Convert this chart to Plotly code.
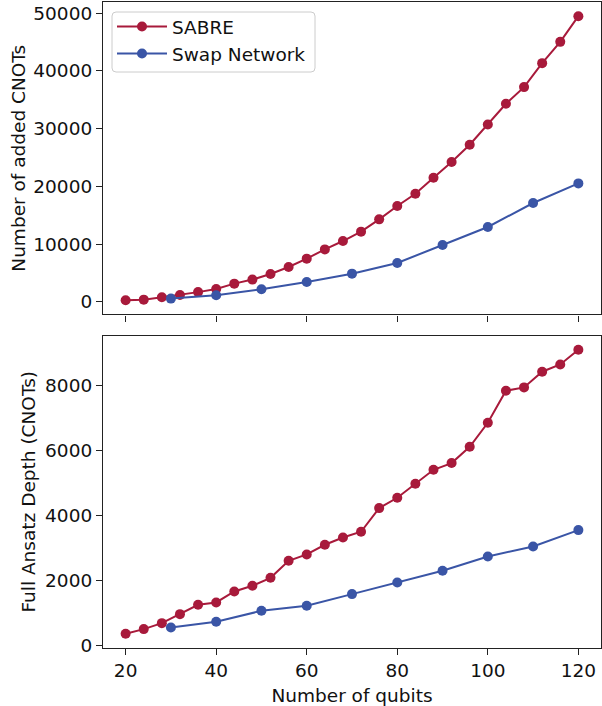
import plotly.graph_objects as go
from plotly.subplots import make_subplots

# Qubit counts for each router
sabre_qubits = list(range(20, 121, 4))
swap_qubits = list(range(30, 121, 10))

# Added CNOT counts
sabre_cnots = [290, 400, 800, 1200, 1700, 2250, 3170, 3870, 4840, 6050, 7500, 9100,
               10550, 12170, 14300, 16610, 18740, 21510, 24220, 27220, 30740, 34310,
               37200, 41350, 45040, 49480]
swap_cnots = [580, 1150, 2190, 3460, 4900, 6750, 9860, 12980, 17130, 20530]

# Full ansatz depth (in CNOTs)
sabre_depth = [369, 513, 697, 974, 1262, 1333, 1672, 1846, 2092, 2615, 2810, 3108,
               3333, 3508, 4236, 4554, 4985, 5415, 5621, 6123, 6862, 7846, 7949,
               8431, 8656, 9108]
swap_depth = [564, 738, 1077, 1231, 1590, 1949, 2308, 2749, 3056, 3559]

RED = "#A81A3B"
BLUE = "#3A55A6"
FONT = "DejaVu Sans"
FS = 18.5
W, H = 602, 706
ML, MR, MT, MB = 103, 1, 2, 58


def padded(values, frac=0.05):
    lo, hi = min(values), max(values)
    span = hi - lo
    return [lo - frac * span, hi + frac * span]


def px_to_paper(x, y):
    pw, ph = W - ML - MR, H - MT - MB
    return (x - ML) / pw, (H - MB - y) / ph


fig = make_subplots(rows=2, cols=1, shared_xaxes=True, vertical_spacing=0.0326)

fig.add_trace(go.Scatter(x=sabre_qubits, y=sabre_cnots, mode="lines+markers", name="SABRE",
                         line=dict(color=RED, width=2), marker=dict(color=RED, size=10)),
              row=1, col=1)
fig.add_trace(go.Scatter(x=swap_qubits, y=swap_cnots, mode="lines+markers", name="Swap Network",
                         line=dict(color=BLUE, width=2), marker=dict(color=BLUE, size=10)),
              row=1, col=1)
fig.add_trace(go.Scatter(x=sabre_qubits, y=sabre_depth, mode="lines+markers", name="SABRE",
                         line=dict(color=RED, width=2), marker=dict(color=RED, size=10),
                         showlegend=False),
              row=2, col=1)
fig.add_trace(go.Scatter(x=swap_qubits, y=swap_depth, mode="lines+markers", name="Swap Network",
                         line=dict(color=BLUE, width=2), marker=dict(color=BLUE, size=10),
                         showlegend=False),
              row=2, col=1)

axis_style = dict(showline=True, mirror=True, linecolor="#222222", linewidth=1.2,
                  ticks="outside", ticklen=6, tickwidth=1.2, tickcolor="#222222",
                  showgrid=False, zeroline=False,
                  tickfont=dict(family=FONT, size=FS, color="#111111"))

fig.update_xaxes(**axis_style, range=[15, 125], tickvals=[20, 40, 60, 80, 100, 120])
fig.update_xaxes(showticklabels=False, row=1, col=1)
fig.update_xaxes(title=dict(text="Number of qubits", font=dict(family=FONT, size=FS, color="#111111"),
                            standoff=9), row=2, col=1)

fig.update_yaxes(**axis_style)
fig.update_yaxes(range=padded(sabre_cnots + swap_cnots), tickvals=[0, 10000, 20000, 30000, 40000, 50000],
                 tickformat="d",
                 title=dict(text="Number of added CNOTs", font=dict(family=FONT, size=FS, color="#111111"),
                            standoff=2), row=1, col=1)
fig.update_yaxes(range=padded(sabre_depth + swap_depth), tickvals=[0, 2000, 4000, 6000, 8000],
                 tickformat="d",
                 title=dict(text="Full Ansatz Depth (CNOTs)", font=dict(family=FONT, size=FS, color="#111111"),
                            standoff=4), row=2, col=1)

# Rounded legend frame
x0, y0 = px_to_paper(112, 72)
x1, y1 = px_to_paper(315, 12)
rx, ry = 4 / (W - ML - MR), 4 / (H - MT - MB)
frame = (f"M{x0 + rx},{y0} L{x1 - rx},{y0} Q{x1},{y0} {x1},{y0 + ry} "
         f"L{x1},{y1 - ry} Q{x1},{y1} {x1 - rx},{y1} "
         f"L{x0 + rx},{y1} Q{x0},{y1} {x0},{y1 - ry} "
         f"L{x0},{y0 + ry} Q{x0},{y0} {x0 + rx},{y0} Z")
fig.add_shape(type="path", path=frame, xref="paper", yref="paper",
              line=dict(color="#cccccc", width=1), fillcolor="rgba(255,255,255,0.8)", layer="above")

lx, ly = px_to_paper(112, 8)
fig.update_layout(
    width=W, height=H,
    margin=dict(l=ML, r=MR, t=MT, b=MB),
    plot_bgcolor="white", paper_bgcolor="white",
    font=dict(family=FONT, size=FS, color="#111111"),
    legend=dict(x=lx, y=ly, xanchor="left", yanchor="top",
                bgcolor="rgba(0,0,0,0)", borderwidth=0,
                font=dict(family=FONT, size=FS, color="#111111"),
                tracegroupgap=0, itemwidth=50),
    showlegend=True,
)

fig.write_html("out.html")
